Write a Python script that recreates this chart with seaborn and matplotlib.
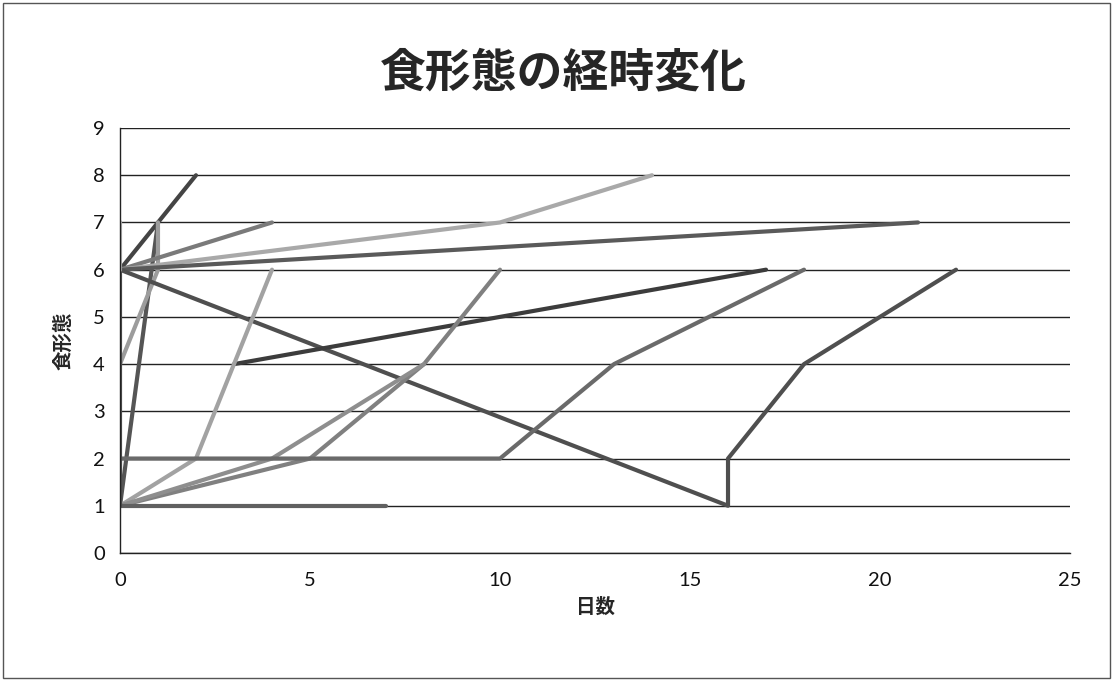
import pandas as pd
import matplotlib
matplotlib.use("Agg")
import matplotlib.pyplot as plt
import seaborn as sns

# ----- chart data -----
title = "食形態の経時変化"
x_label = "日数"
y_label = "食形態"

# one list per patient: days since start and food-form level
days = [
    [0, 1, 2],
    [0, 1],
    [0, 1, 1],
    [0, 4],
    [0, 10, 14],
    [0, 21],
    [0, 16, 16, 18, 22],
    [3, 10, 17],
    [0, 2, 4],
    [0, 5, 8, 10],
    [0, 4, 8],
    [0, 0, 10, 13, 18],
    [0, 7],
    [0, 0],
    [0, 0],
]
forms = [
    [6, 7, 8],
    [1, 7],
    [4, 6, 7],
    [6, 7],
    [6, 7, 8],
    [6, 7],
    [6, 1, 2, 4, 6],
    [4, 5, 6],
    [1, 2, 6],
    [1, 2, 4, 6],
    [1, 2, 4],
    [1, 2, 2, 4, 6],
    [1, 1],
    [1, 6],
    [6, 7],
]
x_ticks = [0, 5, 10, 15, 20, 25]
y_ticks = list(range(0, 10))
# -----------------------------------------------

# grey shades of the printed chart
line_colors = ["#444444", "#555555", "#9c9c9c", "#7a7a7a", "#a9a9a9",
               "#5a5a5a", "#4f4f4f", "#3c3c3c", "#a2a2a2", "#808080",
               "#8e8e8e", "#6a6a6a", "#606060", "#505050", "#b3b3b3"]

rows = []
for i, (xs, ys) in enumerate(zip(days, forms)):
    for k, (x, y) in enumerate(zip(xs, ys)):
        rows.append({"patient": f"p{i + 1}", "order": k, "day": x, "form": y})
df = pd.DataFrame(rows)

sns.set_theme(style="white")
plt.rcParams["font.family"] = ["Noto Sans CJK JP", "DejaVu Sans"]

fig = plt.figure(figsize=(11.13, 6.81), dpi=100)
ax = fig.add_axes([0.1078, 0.188, 0.8536, 0.624])

# chart border
fig.patches.append(plt.Rectangle((0.003, 0.004), 0.994, 0.992, transform=fig.transFigure,
                                 fill=False, edgecolor="#555555", linewidth=1.0))

sns.lineplot(data=df, x="day", y="form", hue="patient", units="patient",
             estimator=None, sort=False, palette=line_colors, linewidth=3.0,
             legend=False, ax=ax, solid_capstyle="round", solid_joinstyle="round")

ax.set_xlim(0, 25)
ax.set_ylim(0, 9)
ax.set_xticks(x_ticks)
ax.set_yticks(y_ticks)
ax.yaxis.grid(True, color="#222222", linewidth=1.0)
ax.set_axisbelow(True)
for side in ["top", "right"]:
    ax.spines[side].set_visible(False)
for side in ["left", "bottom"]:
    ax.spines[side].set_color("#222222")
    ax.spines[side].set_linewidth(1.0)
ax.tick_params(axis="both", length=0, labelsize=14.5, colors="#111111")
ax.tick_params(axis="x", pad=14)
ax.tick_params(axis="y", pad=11)
for lab in ax.get_xticklabels() + ax.get_yticklabels():
    lab.set_family(["Lato", "DejaVu Sans"])

ax.set_xlabel(x_label, fontsize=14, fontweight="bold", labelpad=6)
ax.set_ylabel(y_label, fontsize=14, fontweight="bold", labelpad=14)
fig.text(0.506, 0.892, title, ha="center", va="center", fontsize=33, fontweight="bold")

fig.savefig("out.png", dpi=100, facecolor="white")
